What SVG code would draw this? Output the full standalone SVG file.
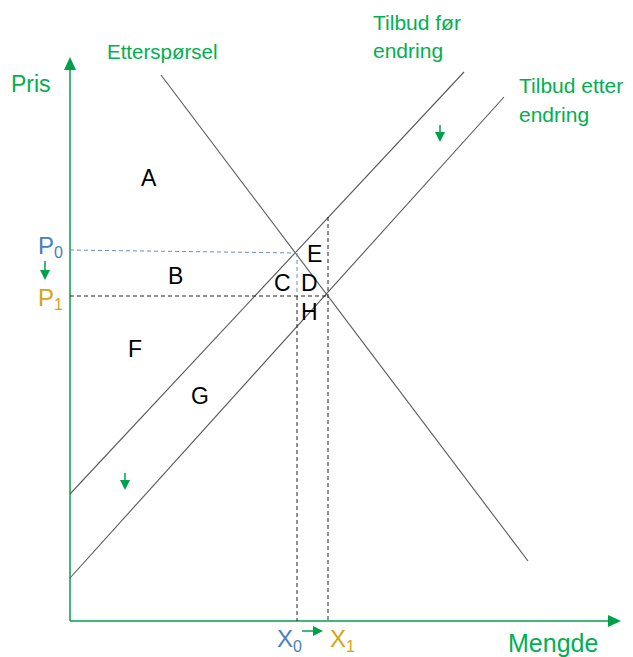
<svg xmlns="http://www.w3.org/2000/svg" width="633" height="657" viewBox="0 0 633 657">
<style>
.g{fill:#00B050;font-family:"Liberation Sans",Arial,sans-serif}
.k{fill:#000;font-family:"Liberation Sans",Arial,sans-serif;font-size:23px}
.b{fill:#4A7EC0;font-family:"Liberation Sans",Arial,sans-serif;font-size:24px}
.y{fill:#D4A414;font-family:"Liberation Sans",Arial,sans-serif;font-size:24px}
.ln{stroke:#595959;stroke-width:1.1;fill:none}
.ax{stroke:#00A04A;stroke-width:1.5;fill:none}
.dk{stroke:#222;stroke-width:1;stroke-dasharray:4,3;fill:none}
.db{stroke:#6C8EBF;stroke-width:1;stroke-dasharray:4,3;fill:none}
.ar{fill:#00A04A}
</style>
<rect width="633" height="657" fill="#fff"/>
<g id="connectors">
<path class="ax" d="M70,621 V68"/>
<polygon class="ar" points="70,57 64,70 76,70"/>
<path class="ax" d="M70,621 H610"/>
<polygon class="ar" points="621,621 608,615 608,627"/>
<path class="ln" d="M161,75 L528,561"/>
<path class="ln" d="M70,494 L464,72"/>
<path class="ln" d="M70,578 L504,97"/>
<path class="db" d="M70,250 L296,253"/>
<path class="dk" d="M70,296 H328"/>
<path class="db" d="M297,253 V296"/>
<path class="dk" d="M297,296 V621"/>
<path class="dk" d="M328,217 V621"/>
<path stroke="#00A04A" stroke-width="1.5" d="M45,261 V272"/>
<polygon class="ar" points="40,270 50,270 45,280"/>
<path stroke="#00A04A" stroke-width="1.5" d="M440,125 V134"/>
<polygon class="ar" points="435,132 445,132 440,142"/>
<path stroke="#00A04A" stroke-width="1.5" d="M125,473 V482"/>
<polygon class="ar" points="120,480 130,480 125,490"/>
<path stroke="#00A04A" stroke-width="1.5" d="M302,631 H315"/>
<polygon class="ar" points="313,626 313,636 323,631"/>
</g>
<g id="labels">
<text class="g" x="11" y="92" font-size="23">Pris</text>
<text class="g" x="107" y="59" font-size="20.5">Etterspørsel</text>
<text class="g" x="373" y="30" font-size="21">Tilbud før</text>
<text class="g" x="373" y="58" font-size="21">endring</text>
<text class="g" x="519" y="93" font-size="21">Tilbud etter</text>
<text class="g" x="519" y="122" font-size="21">endring</text>
<text class="g" x="508" y="652" font-size="25">Mengde</text>
<text class="b" x="38" y="254">P<tspan font-size="16" dy="4">0</tspan></text>
<text class="y" x="38" y="306">P<tspan font-size="16" dy="4">1</tspan></text>
<text class="b" x="277" y="647">X<tspan font-size="16" dy="5">0</tspan></text>
<text class="y" x="330" y="647">X<tspan font-size="16" dy="5">1</tspan></text>
<text class="k" x="141" y="186">A</text>
<text class="k" x="168" y="284">B</text>
<text class="k" x="274" y="291">C</text>
<text class="k" x="301" y="291">D</text>
<text class="k" x="307" y="262">E</text>
<text class="k" x="301" y="320">H</text>
<text class="k" x="128" y="357">F</text>
<text class="k" x="191" y="404">G</text>
</g>
</svg>
